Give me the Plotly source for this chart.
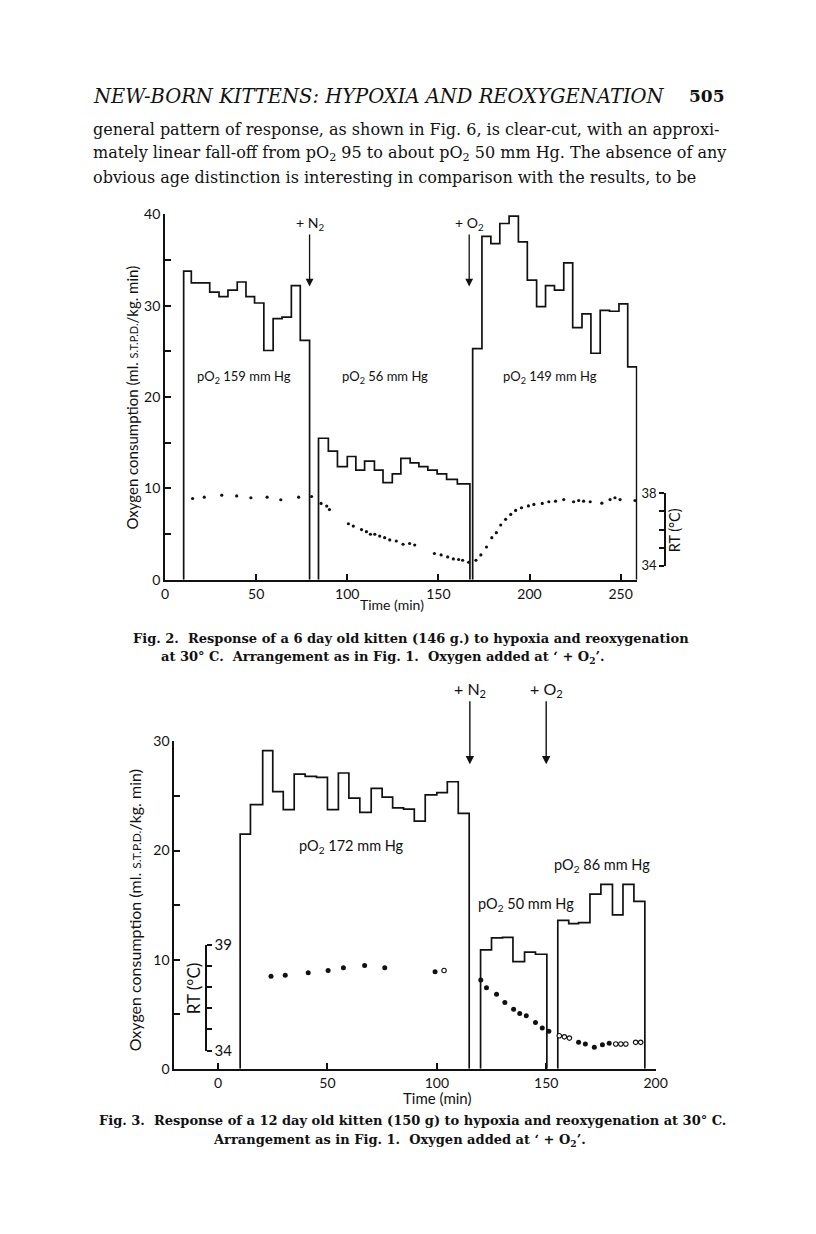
import plotly.graph_objects as go

W, H = 816, 1234
# small calibration so the photographed page lines up with the reference page
SC, BX, BY = 0.986, 2.0, 5.5

# ---------------- DATA ----------------
# Fig. 2 (top): oxygen consumption steps (bin edges in min, values ml/kg.min)
f2_seg1_edges = [10.2, 14.4, 24.5, 29.6, 34.5, 39.6, 44.4, 49.1, 54.2, 59.3, 64.2, 69.3, 74.2, 79.3]
f2_seg1_vals = [33.8, 32.5, 31.5, 31.0, 31.7, 32.6, 31.0, 30.3, 25.1, 28.6, 28.75, 32.2, 26.2]
f2_seg2_edges = [84.2, 89.6, 94.6, 100.0, 104.7, 109.5, 114.9, 119.6, 124.7, 129.4, 134.5, 139.3,
                 144.2, 149.3, 154.5, 160.4, 167.3]
f2_seg2_vals = [15.5, 14.1, 12.4, 13.5, 12.0, 13.0, 12.0, 10.65, 11.6, 13.3, 12.8, 12.4, 12.0,
                11.6, 11.0, 10.5]
f2_seg3_edges = [168.8, 173.9, 178.8, 183.7, 188.8, 193.9, 198.8, 203.9, 208.8, 213.7, 218.8,
                 223.7, 228.8, 233.7, 238.8, 243.9, 249.1, 253.9, 258.8]
f2_seg3_vals = [25.3, 37.6, 36.8, 39.0, 39.8, 37.0, 32.8, 29.9, 32.2, 31.7, 34.7, 27.6, 29.1,
                24.8, 29.5, 29.4, 30.2, 23.3]
# Fig. 2 rectal temperature (deg C)
f2_rt_t = [15.1, 21.5, 31.1, 39.3, 47.1, 56.0, 63.5, 73.3, 80.4, 85.6, 88.7, 90.2, 100.6, 103.3,
           107.8, 110.5, 112.7, 115.1, 117.8, 120.5, 123.3, 126.9, 130.6, 134.2, 137.0, 147.8,
           151.5, 155.1, 158.2, 161.1, 163.3, 166.6, 170.6, 173.3, 176.4, 179.3, 181.8, 184.2,
           186.9, 189.7, 192.4, 195.6, 199.4, 202.4, 207.0, 210.6, 214.3, 218.8, 224.2, 227.0,
           229.7, 233.3, 239.7, 244.2, 246.9, 249.7, 257.9]
f2_rt = [37.71, 37.78, 37.89, 37.85, 37.75, 37.78, 37.64, 37.78, 37.82, 37.44, 37.29, 37.1, 36.32,
         36.19, 36.0, 35.88, 35.74, 35.74, 35.64, 35.55, 35.43, 35.37, 35.19, 35.23, 35.15, 34.68,
         34.6, 34.49, 34.38, 34.35, 34.31, 34.2, 34.31, 34.6, 35.04, 35.55, 35.83, 36.25, 36.56,
         36.83, 37.05, 37.2, 37.3, 37.38, 37.44, 37.53, 37.56, 37.65, 37.53, 37.6, 37.56, 37.53,
         37.45, 37.65, 37.75, 37.65, 37.6]
f2_events = ["+ N<sub>2</sub>", "+ O<sub>2</sub>"]
f2_event_t = [79.3, 166.9]
f2_labels = ["pO<sub>2</sub> 159 mm Hg", "pO<sub>2</sub> 56 mm Hg", "pO<sub>2</sub> 149 mm Hg"]

# Fig. 3 (bottom)
f3_seg1_edges = [10.1, 14.8, 20.4, 25.0, 29.8, 34.8, 39.8, 45.0, 50.0, 55.0, 59.8, 64.8, 70.0,
                 75.0, 79.8, 84.8, 89.7, 94.7, 100.0, 104.8, 109.8, 114.8]
f3_seg1_vals = [21.5, 24.2, 29.15, 25.4, 23.75, 27.0, 26.8, 26.7, 23.75, 27.1, 24.8, 23.5, 25.7,
                24.9, 23.9, 23.8, 22.7, 25.1, 25.3, 26.3, 23.4]
f3_seg2_edges = [120.0, 125.0, 130.0, 134.8, 140.1, 145.1, 150.3]
f3_seg2_vals = [10.9, 12.0, 12.05, 9.83, 10.7, 10.5]
f3_seg3_edges = [155.3, 160.3, 164.8, 170.0, 175.0, 180.3, 185.1, 190.1, 195.1]
f3_seg3_vals = [13.6, 13.3, 13.4, 16.0, 16.9, 14.1, 16.9, 15.35]
f3_rt_t = [24.2, 30.7, 41.2, 50.3, 57.3, 67.0, 76.2, 99.2, 120.1, 122.7, 127.3, 131.1, 135.1,
           137.9, 140.9, 145.1, 148.2, 151.2, 164.8, 167.9, 172.0, 175.7, 178.8]
f3_rt = [37.51, 37.56, 37.67, 37.78, 37.91, 38.02, 37.91, 37.72, 37.33, 36.97, 36.66, 36.27, 35.95,
         35.75, 35.64, 35.33, 35.06, 34.91, 34.39, 34.31, 34.16, 34.28, 34.34]
f3_rt_open_t = [103.3, 156.0, 158.3, 160.6, 181.8, 184.1, 186.4, 190.9, 193.2]
f3_rt_open = [37.78, 34.70, 34.65, 34.59, 34.31, 34.31, 34.31, 34.39, 34.39]
f3_events = ["+ N<sub>2</sub>", "+ O<sub>2</sub>"]
f3_event_t = [115.1, 150.0]
f3_labels = ["pO<sub>2</sub> 172 mm Hg", "pO<sub>2</sub> 50 mm Hg", "pO<sub>2</sub> 86 mm Hg"]

# Page text
header = "<i>NEW-BORN KITTENS: HYPOXIA AND REOXYGENATION</i>"
page_no = "505"
body = [
    "general pattern of response, as shown in Fig. 6, is clear-cut, with an approxi-",
    "mately linear fall-off from pO<sub>2</sub> 95 to about pO<sub>2</sub> 50 mm Hg. The absence of any",
    "obvious age distinction is interesting in comparison with the results, to be",
]
cap2 = ["Fig. 2.  Response of a 6 day old kitten (146 g.) to hypoxia and reoxygenation",
        "at 30° C.  Arrangement as in Fig. 1.  Oxygen added at ‘ + O<sub>2</sub>’."]
cap3 = ["Fig. 3.  Response of a 12 day old kitten (150 g) to hypoxia and reoxygenation at 30° C.",
        "Arrangement as in Fig. 1.  Oxygen added at ‘ + O<sub>2</sub>’."]

# ---------------- helpers ----------------
def px(x):
    return ((x - BX) / SC) / W

def py(y):
    return 1 - ((y - BY) / SC) / H

def steps(edges, vals):
    xs = [edges[0]] + list(edges[:-1]) + [edges[-1]]
    ys = [0] + list(vals) + [0]
    return xs, ys

SANS = "Lato"
SERIF = "DejaVu Serif"
INK = "#111111"

fig = go.Figure()
line_style = dict(color=INK, width=1.7, shape="hv")

for e, v in [(f2_seg1_edges, f2_seg1_vals), (f2_seg2_edges, f2_seg2_vals), (f2_seg3_edges, f2_seg3_vals)]:
    xs, ys = steps(e, v)
    fig.add_trace(go.Scatter(x=xs, y=ys, mode="lines", line=line_style, xaxis="x", yaxis="y",
                             showlegend=False, hoverinfo="skip"))
fig.add_trace(go.Scatter(x=f2_rt_t, y=f2_rt, mode="markers", marker=dict(color=INK, size=3.2),
                         xaxis="x", yaxis="y3", showlegend=False))

for e, v in [(f3_seg1_edges, f3_seg1_vals), (f3_seg2_edges, f3_seg2_vals), (f3_seg3_edges, f3_seg3_vals)]:
    xs, ys = steps(e, v)
    fig.add_trace(go.Scatter(x=xs, y=ys, mode="lines", line=line_style, xaxis="x2", yaxis="y2",
                             showlegend=False, hoverinfo="skip"))
fig.add_trace(go.Scatter(x=f3_rt_t, y=f3_rt, mode="markers", marker=dict(color=INK, size=5),
                         xaxis="x2", yaxis="y4", showlegend=False))
fig.add_trace(go.Scatter(x=f3_rt_open_t, y=f3_rt_open, mode="markers",
                         marker=dict(color="white", size=4.5, line=dict(color=INK, width=1.2)),
                         xaxis="x2", yaxis="y4", showlegend=False))

tickfont = dict(family=SANS, size=14, color=INK)
common = dict(showgrid=False, zeroline=False, showline=True, linecolor=INK, linewidth=1.9,
              ticks="inside", tickcolor=INK, tickwidth=1.7, tickfont=tickfont, fixedrange=True)

fig.update_layout(
    width=W, height=H, margin=dict(l=0, r=0, t=0, b=0), autosize=False,
    paper_bgcolor="white", plot_bgcolor="rgba(0,0,0,0)",
    xaxis=dict(domain=[px(164), px(639)], range=[0, 259.2], anchor="y",
               tickvals=[0, 50, 100, 150, 200, 250, 259.2], ticktext=["0", "50", "100", "150", "200", "250", ""],
               ticklen=6, **common),
    yaxis=dict(domain=[py(575.7), py(210)], range=[0, 40], anchor="x",
               tickvals=list(range(0, 41, 5)), ticktext=["0", "", "10", "", "20", "", "30", "", "40"],
               ticklen=6, **common),
    xaxis2=dict(domain=[px(173.3), px(657.3)], range=[-20, 200], anchor="y2",
                tickvals=[0, 50, 100, 150, 200], ticktext=["0", "50", "100", "150", "200"],
                ticklen=6, **common),
    yaxis2=dict(domain=[py(1065), py(737.3)], range=[0, 30], anchor="x2",
                tickvals=list(range(0, 31, 5)), ticktext=["0", "", "10", "", "20", "", "30"],
                ticklen=6, **common),
    yaxis3=dict(domain=[py(561.7), py(489)], range=[34, 38], anchor="free", position=px(666.7),
                side="left", tickvals=[34, 35, 36, 37, 38], ticktext=["34", "", "", "", "38"],
                **{**common, "ticks": "outside", "linewidth": 1.5, "tickfont": dict(family=SANS, size=13, color=INK)},
                ticklen=5),
    yaxis4=dict(domain=[py(1046.7), py(940.7)], range=[34, 39], anchor="free", position=px(205),
                side="right", tickvals=[34, 35, 36, 37, 38, 39], ticktext=["34", "", "", "", "", "39"],
                **{**common, "ticks": "outside", "linewidth": 1.5, "tickfont": dict(family=SANS, size=15, color=INK)},
                ticklen=5),
)

ann = []
def txt(text, x, y, size, family=SANS, xanchor="center", angle=0, xref="paper", yref="paper", weight=None):
    f = dict(family=family, size=size, color=INK)
    if weight:
        f["weight"] = weight
    ann.append(dict(text=text, x=x, y=y, xref=xref, yref=yref, showarrow=False, xanchor=xanchor,
                    yanchor="middle", textangle=angle, font=f))

ytitle1 = "Oxygen consumption (ml. <span style='font-size:11px'>S.T.P.D.</span>/kg. min)"
ytitle2 = "Oxygen consumption (ml. <span style='font-size:12px'>S.T.P.D.</span>/kg. min)"
txt(ytitle1, px(131), py(393), 15, angle=-90)
txt(ytitle2, px(134), py(906), 16, angle=-90)
txt("Time (min)", px(392), py(600), 14)
txt("Time (min)", px(437), py(1094), 15)
txt("RT (°C)", px(676), py(526), 14.5, angle=-90)
txt("RT (°C)", px(193.5), py(984), 17, angle=-90)

# pO2 labels (data coords)
for lab, xx, yy in zip(f2_labels, [43.3, 120.6, 211.5], [22.2, 22.2, 22.2]):
    txt(lab, xx, yy, 13, xref="x", yref="y")
for lab, xx, yy in zip(f3_labels, [61, 140.7, 175.7], [20.36, 15.1, 18.6]):
    txt(lab, xx, yy, 14.5, xref="x2", yref="y2")

# event arrows
for lab, t in zip(f2_events, f2_event_t):
    ann.append(dict(text=lab, x=t, y=32.1, xref="x", yref="y", ax=0, ay=-63, showarrow=True,
                    arrowhead=2, arrowsize=1.2, arrowwidth=1.3, arrowcolor=INK,
                    font=dict(family=SANS, size=14, color=INK)))
for lab, t in zip(f3_events, f3_event_t):
    ann.append(dict(text=lab, x=t, y=27.9, xref="x2", yref="y2", ax=0, ay=-75, showarrow=True,
                    arrowhead=2, arrowsize=1.2, arrowwidth=1.4, arrowcolor=INK,
                    font=dict(family=SANS, size=16, color=INK)))

# page text
txt(header, px(90), py(92), 19.5, family=SERIF, xanchor="left")
txt(page_no, px(729), py(92), 17, family=SERIF, xanchor="right", weight="bold")
for i, line in enumerate(body):
    txt(line, px(90), py(125 + 24 * i), 16, family=SERIF, xanchor="left")
txt(cap2[0], px(130), py(634), 13, family=SERIF, xanchor="left", weight="bold")
txt(cap2[1], px(158), py(653), 13, family=SERIF, xanchor="left", weight="bold")
txt(cap3[0], px(96), py(1117), 13, family=SERIF, xanchor="left", weight="bold")
txt(cap3[1], px(400), py(1137), 13, family=SERIF, xanchor="center", weight="bold")

fig.update_layout(annotations=ann)
fig.write_html("out.html", config={"displayModeBar": False},
               post_script="document.body.style.margin='0';document.body.style.overflow='hidden';")
